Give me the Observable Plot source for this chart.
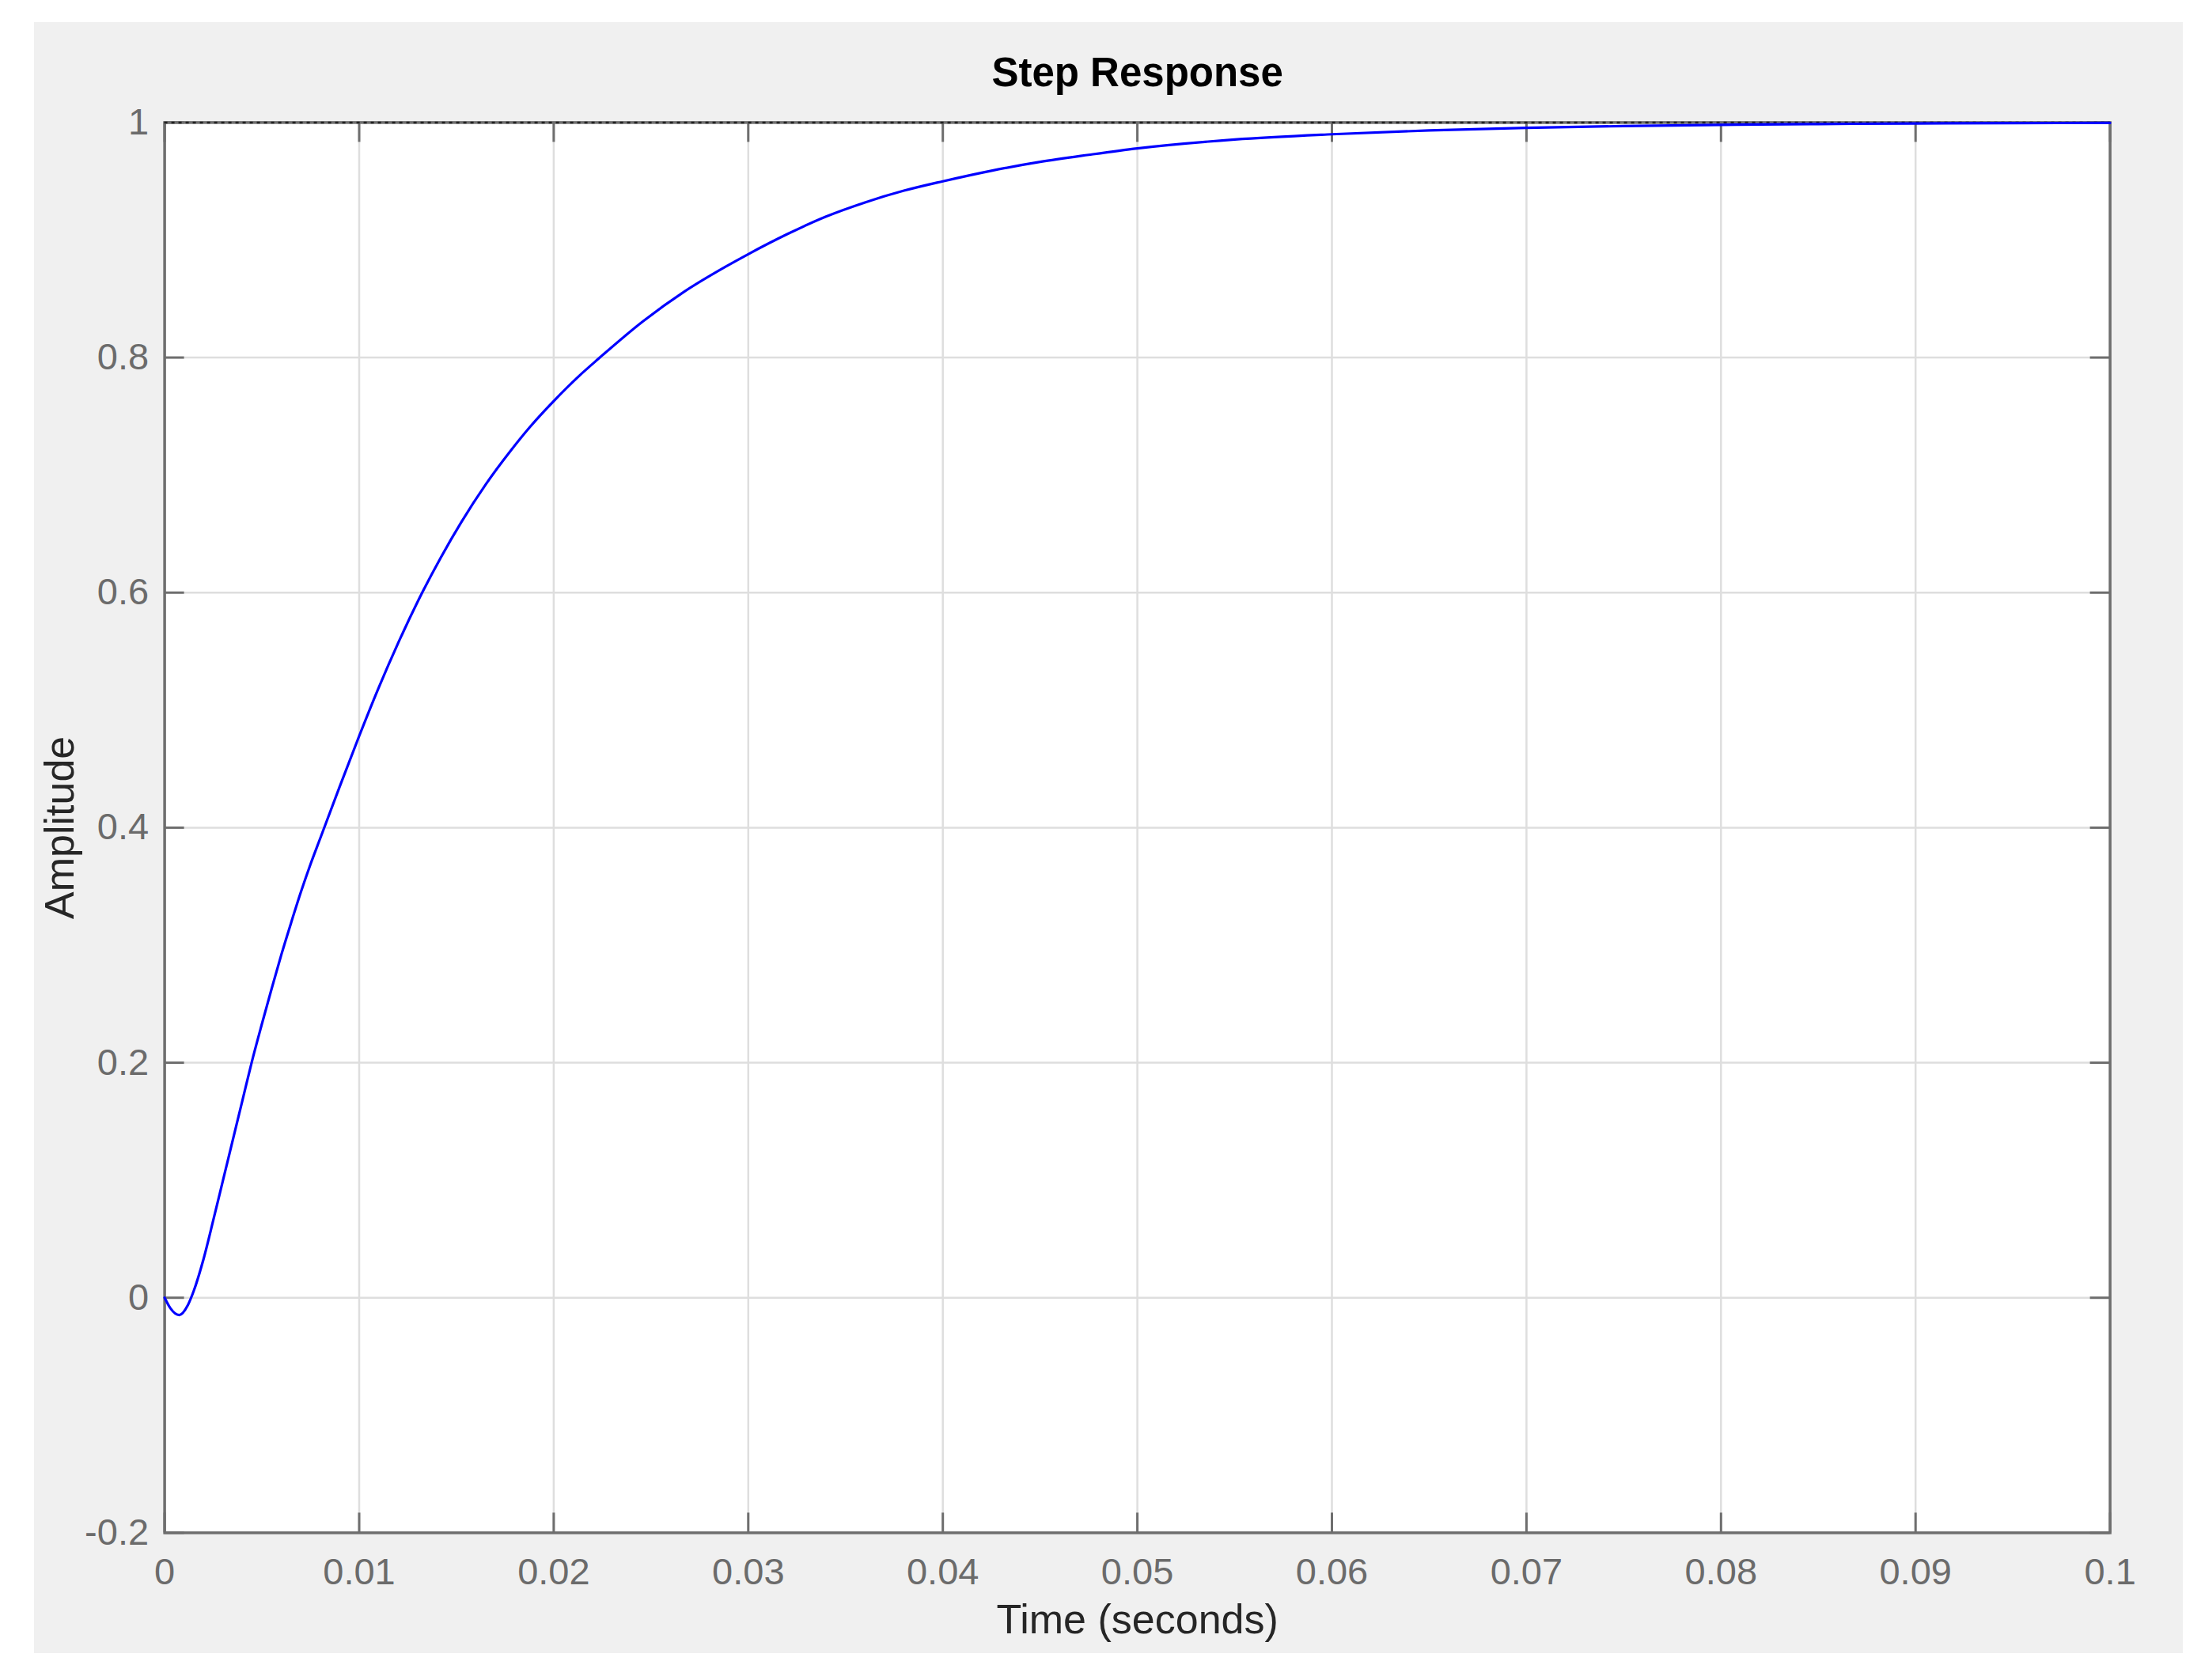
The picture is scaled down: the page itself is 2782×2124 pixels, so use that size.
<!DOCTYPE html>
<html>
<head>
<meta charset="utf-8">
<script src="https://cdn.jsdelivr.net/npm/d3@7"></script>
<script src="https://cdn.jsdelivr.net/npm/@observablehq/plot@0.6"></script>
<style>
  html, body { margin: 0; padding: 0; background: #ffffff; }
  #wrap { position: relative; width: 2782px; height: 2124px; overflow: hidden; }
  #panel { position: absolute; left: 43px; top: 28px; width: 2716px; height: 2062px; background: #f0f0f0; }
  #chart { position: absolute; left: 0; top: 0; }
</style>
</head>
<body>
<div id="wrap"><div id="panel"></div><div id="chart"></div></div>
<script>
// ---- data ----
const time = [0, 0.0003, 0.00075, 0.0012, 0.0015, 0.002, 0.0025, 0.003, 0.0035, 0.004,
  0.00447, 0.005, 0.0055, 0.006, 0.0065, 0.007, 0.0075, 0.008, 0.009,
  0.010, 0.011, 0.012, 0.0133, 0.0142, 0.01525, 0.0165, 0.01775, 0.01878, 0.020,
  0.02128, 0.0223, 0.0246, 0.0267, 0.0288, 0.030, 0.032, 0.034, 0.036, 0.038,
  0.040, 0.0425, 0.045, 0.0475, 0.050, 0.055, 0.060, 0.065, 0.070, 0.075,
  0.080, 0.085, 0.090, 0.095, 0.100];
const amplitude = [0, -0.009, -0.0147, -0.006, 0.006, 0.033, 0.066, 0.100, 0.134, 0.168,
  0.200, 0.233, 0.263, 0.292, 0.319, 0.345, 0.369, 0.391, 0.435,
  0.478, 0.519, 0.557, 0.602, 0.630, 0.660, 0.692, 0.720, 0.741, 0.763,
  0.784, 0.799, 0.831, 0.856, 0.877, 0.888, 0.905, 0.920, 0.932, 0.942,
  0.950, 0.959, 0.9665, 0.9725, 0.978, 0.9855, 0.990, 0.9933, 0.9955, 0.997,
  0.998, 0.9987, 0.9992, 0.9995, 0.9997];
const steadyState = [1];
const xTicks = [0, 0.01, 0.02, 0.03, 0.04, 0.05, 0.06, 0.07, 0.08, 0.09, 0.1];
const xTickLabels = ["0", "0.01", "0.02", "0.03", "0.04", "0.05", "0.06", "0.07", "0.08", "0.09", "0.1"];
const yTicks = [-0.2, 0, 0.2, 0.4, 0.6, 0.8, 1];
const yTickLabels = ["-0.2", "0", "0.2", "0.4", "0.6", "0.8", "1"];
const titleText = ["Step Response"];
const xLabelText = ["Time (seconds)"];
const yLabelText = ["Amplitude"];

const data = time.map((t, i) => ({t, a: amplitude[i]}));

// ---- layout ----
const W = 2782, H = 2124;
const mL = 207.6, mR = 115.4, mT = 154.4, mB = 186.6;
const plotW = W - mL - mR, plotH = H - mT - mB;
const tickLen = 25;
const axisColor = "#6e6e6e";
const gridColor = "#dedede";
const font = "'Liberation Sans', Arial, Helvetica, sans-serif";

const chart = Plot.plot({
  width: W,
  height: H,
  marginLeft: mL,
  marginRight: mR,
  marginTop: mT,
  marginBottom: mB,
  style: {background: "transparent", fontFamily: font, overflow: "visible"},
  x: {domain: [0, 0.1], axis: null},
  y: {domain: [-0.2, 1], axis: null},
  marks: [
    Plot.frame({fill: "white"}),
    Plot.gridX(xTicks, {stroke: gridColor, strokeOpacity: 1, strokeWidth: 2.5}),
    Plot.gridY(yTicks, {stroke: gridColor, strokeOpacity: 1, strokeWidth: 2.5}),
    Plot.frame({stroke: axisColor, strokeWidth: 3.5}),
    // inward ticks on all four sides
    Plot.ruleX(xTicks, {x: d => d, insetTop: plotH - tickLen, stroke: axisColor, strokeWidth: 3}),
    Plot.ruleX(xTicks, {x: d => d, insetBottom: plotH - tickLen, stroke: axisColor, strokeWidth: 3}),
    Plot.ruleY(yTicks, {y: d => d, insetRight: plotW - tickLen, stroke: axisColor, strokeWidth: 3}),
    Plot.ruleY(yTicks, {y: d => d, insetLeft: plotW - tickLen, stroke: axisColor, strokeWidth: 3}),
    // steady-state dotted line and the response
    Plot.ruleY(steadyState, {stroke: "#222222", strokeWidth: 2.5, strokeDasharray: "4,5"}),
    Plot.line(data, {x: "t", y: "a", stroke: "#0000ff", strokeWidth: 3.2, curve: "monotone-x"}),
    // tick labels
    Plot.axisX(xTicks, {
      anchor: "bottom", tickSize: 0, tickPadding: 32, fontSize: 47, color: "#6b6b6b",
      tickFormat: d => xTickLabels[xTicks.indexOf(d)], label: null
    }),
    Plot.axisY(yTicks, {
      anchor: "left", tickSize: 0, tickPadding: 20, fontSize: 47, color: "#6b6b6b",
      tickFormat: d => yTickLabels[yTicks.indexOf(d)], label: null
    }),
    // title and axis labels
    Plot.text(titleText, {text: d => d, frameAnchor: "top", lineAnchor: "middle", textAnchor: "middle",
      dy: -62, fontSize: 51, fontWeight: "bold", fill: "#000000"}),
    Plot.text(xLabelText, {text: d => d, frameAnchor: "bottom", lineAnchor: "middle", textAnchor: "middle",
      dy: 110, fontSize: 52, fill: "#262626"}),
    Plot.text(yLabelText, {text: d => d, frameAnchor: "left", lineAnchor: "middle", textAnchor: "middle",
      dx: -132, rotate: -90, fontSize: 52, fill: "#262626"})
  ]
});
document.getElementById("chart").appendChild(chart);
</script>
</body>
</html>
